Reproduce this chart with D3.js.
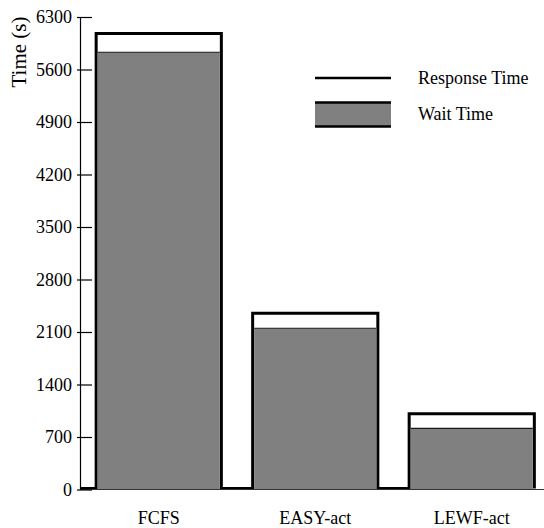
<!DOCTYPE html>
<html>
<head>
<meta charset="utf-8">
<script src="https://cdn.jsdelivr.net/npm/d3@7"></script>
<style>
  html, body { margin: 0; padding: 0; background: #fff; }
  svg { display: block; }
  text { font-family: "Liberation Serif", "Times New Roman", serif; fill: #000; }
</style>
</head>
<body>
<script>
const categories = ["FCFS", "EASY-act", "LEWF-act"];
const responseTime = [6080, 2350, 1010];
const waitTime = [5830, 2150, 815];
const yTicks = [0, 700, 1400, 2100, 2800, 3500, 4200, 4900, 5600, 6300];
const legendLabels = ["Response Time", "Wait Time"];

const W = 544, H = 528;
const FS = 18;
const svg = d3.select("body").append("svg").attr("width", W).attr("height", H);

const axisX = 80;
const y = d3.scaleLinear().domain([0, 6300]).range([489.5, 17]);
const x = d3.scaleBand().domain(categories).range([80.5, 550]).paddingInner(0.2).paddingOuter(0.1);
const y0 = y(0);
const sw = 3;

// Response-time boxes (white fill)
svg.append("g").selectAll("rect").data(categories).join("rect")
  .attr("x", d => x(d))
  .attr("y", (d, i) => y(responseTime[i]))
  .attr("width", x.bandwidth())
  .attr("height", (d, i) => y0 - y(responseTime[i]))
  .attr("fill", "#fff");

// Step outline of response times along baseline
const pathD = d3.path();
pathD.moveTo(axisX, y0 - 1);
categories.forEach((c, i) => {
  pathD.lineTo(x(c), y0 - 1);
  pathD.lineTo(x(c), y(responseTime[i]));
  pathD.lineTo(x(c) + x.bandwidth(), y(responseTime[i]));
  pathD.lineTo(x(c) + x.bandwidth(), y0 - 1);
});
svg.append("path").attr("d", pathD.toString())
  .attr("fill", "none").attr("stroke", "#000").attr("stroke-width", sw)
  .attr("stroke-linejoin", "miter");

// Wait-time bars (gray)
svg.append("g").selectAll("rect").data(categories).join("rect")
  .attr("x", d => x(d) + sw / 2)
  .attr("y", (d, i) => y(waitTime[i]))
  .attr("width", x.bandwidth() - sw)
  .attr("height", (d, i) => y0 - y(waitTime[i]))
  .attr("fill", "#808080");
svg.append("g").selectAll("line").data(categories).join("line")
  .attr("x1", d => x(d) + sw / 2)
  .attr("x2", d => x(d) + x.bandwidth() - sw / 2)
  .attr("y1", (d, i) => y(waitTime[i]))
  .attr("y2", (d, i) => y(waitTime[i]))
  .attr("stroke", "#1a1a1a").attr("stroke-width", 1.2);

// Baseline
svg.append("line").attr("x1", axisX).attr("x2", W).attr("y1", y0).attr("y2", y0)
  .attr("stroke", "#333").attr("stroke-width", 1.2);

// Y axis
const yAxis = d3.axisLeft(y).tickValues(yTicks).tickFormat(d3.format("d")).tickSizeOuter(0).tickSizeInner(-12).tickPadding(8);
const gy = svg.append("g").attr("transform", `translate(${axisX},0)`).call(yAxis);
gy.select(".domain").attr("stroke", "#000").attr("stroke-width", 1.2);
gy.selectAll(".tick line").attr("x1", -3).attr("x2", 12).attr("stroke", "#000").attr("stroke-width", 1.2);
gy.selectAll(".tick text").attr("x", -8).attr("font-size", FS)
  .attr("font-family", "Liberation Serif, serif").attr("fill", "#000");

// Y label
svg.append("text").attr("transform", `translate(26,52) rotate(-90)`)
  .attr("text-anchor", "middle").attr("font-size", 21).text("Time (s)");

// X labels
svg.append("g").selectAll("text").data(categories).join("text")
  .attr("x", d => x(d) + x.bandwidth() / 2)
  .attr("y", 524)
  .attr("text-anchor", "middle").attr("font-size", FS)
  .text(d => d);

// Legend
const lg = svg.append("g");
lg.append("line").attr("x1", 315).attr("x2", 391).attr("y1", 78).attr("y2", 78)
  .attr("stroke", "#000").attr("stroke-width", 2.7);
lg.append("rect").attr("x", 315).attr("y", 102.5).attr("width", 76).attr("height", 24)
  .attr("fill", "#808080");
lg.append("line").attr("x1", 315).attr("x2", 391).attr("y1", 102.5).attr("y2", 102.5)
  .attr("stroke", "#000").attr("stroke-width", 2.7);
lg.append("line").attr("x1", 315).attr("x2", 391).attr("y1", 126.5).attr("y2", 126.5)
  .attr("stroke", "#000").attr("stroke-width", 2.7);
lg.selectAll("text.lab").data(legendLabels).join("text").attr("class", "lab")
  .attr("x", 418).attr("y", (d, i) => 84 + i * 36)
  .attr("font-size", FS).text(d => d);
</script>
</body>
</html>
